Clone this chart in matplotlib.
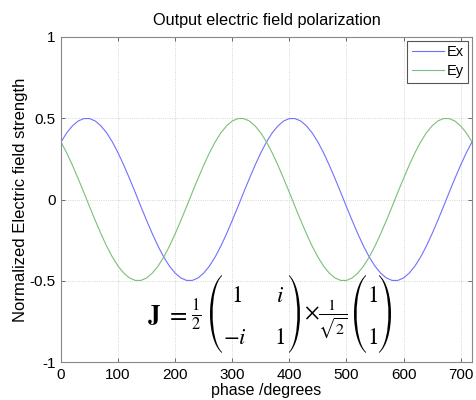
import matplotlib
matplotlib.use("Agg")
import matplotlib.pyplot as plt
from matplotlib.path import Path
from matplotlib.patches import PathPatch

phase = list(range(0, 721, 10))
ex = [0.354, 0.410, 0.453, 0.483, 0.498, 0.498, 0.483, 0.453, 0.410, 0.354,
      0.287, 0.211, 0.129, 0.044, -0.044, -0.129, -0.211, -0.287, -0.354, -0.410,
      -0.453, -0.483, -0.498, -0.498, -0.483, -0.453, -0.410, -0.354, -0.287, -0.211,
      -0.129, -0.044, 0.044, 0.129, 0.211, 0.287,
      0.354, 0.410, 0.453, 0.483, 0.498, 0.498, 0.483, 0.453, 0.410, 0.354,
      0.287, 0.211, 0.129, 0.044, -0.044, -0.129, -0.211, -0.287, -0.354, -0.410,
      -0.453, -0.483, -0.498, -0.498, -0.483, -0.453, -0.410, -0.354, -0.287, -0.211,
      -0.129, -0.044, 0.044, 0.129, 0.211, 0.287, 0.354]
ey = [0.354, 0.287, 0.211, 0.129, 0.044, -0.044, -0.129, -0.211, -0.287, -0.354,
      -0.410, -0.453, -0.483, -0.498, -0.498, -0.483, -0.453, -0.410, -0.354, -0.287,
      -0.211, -0.129, -0.044, 0.044, 0.129, 0.211, 0.287, 0.354, 0.410, 0.453,
      0.483, 0.498, 0.498, 0.483, 0.453, 0.410,
      0.354, 0.287, 0.211, 0.129, 0.044, -0.044, -0.129, -0.211, -0.287, -0.354,
      -0.410, -0.453, -0.483, -0.498, -0.498, -0.483, -0.453, -0.410, -0.354, -0.287,
      -0.211, -0.129, -0.044, 0.044, 0.129, 0.211, 0.287, 0.354, 0.410, 0.453,
      0.483, 0.498, 0.498, 0.483, 0.453, 0.410, 0.354]
series_labels = ["Ex", "Ey"]
xticks = [0, 100, 200, 300, 400, 500, 600, 700]
yticks = [-1, -0.5, 0, 0.5, 1]
ytick_labels = ["-1", "-0.5", "0", "0.5", "1"]

# Jones matrix entries shown in the annotation
matrix_entries = [["1", "i"], ["-i", "1"]]
vector_entries = ["1", "1"]

plt.rcParams['font.family'] = ['Liberation Sans', 'DejaVu Sans']
plt.rcParams['mathtext.fontset'] = 'stix'

W, H = 477, 400
fig = plt.figure(figsize=(W / 100, H / 100), dpi=100)
ax = fig.add_axes([61 / W, 1 - 362 / H, (472 - 61) / W, (362 - 37) / H])

ax.plot(phase, ex, color='#7070ff', lw=0.8, label=series_labels[0])
ax.plot(phase, ey, color='#78c078', lw=0.8, label=series_labels[1])

ax.set_xlim(0, 720)
ax.set_ylim(-1, 1)
ax.set_xticks(xticks)
ax.set_yticks(yticks)
ax.set_yticklabels(ytick_labels)
ax.tick_params(direction='in', top=True, right=True, length=3, width=0.6,
               color='#555555', labelsize=11, pad=4)
for s in ax.spines.values():
    s.set_color('#888888')
    s.set_linewidth(0.8)
ax.grid(True, linestyle=':', color='#c8c8c8', linewidth=0.6)

ax.set_title("Output electric field polarization", fontsize=11.7, pad=9)
ax.set_xlabel("phase /degrees", fontsize=11.5, labelpad=1)
ax.set_ylabel("Normalized Electric field strength", fontsize=12, labelpad=1)

leg = ax.legend(loc='upper right', fontsize=10.5, fancybox=False, framealpha=1,
                edgecolor='#555555', handlelength=2.2, borderaxespad=0.25,
                labelspacing=0.35, handletextpad=0.2, borderpad=0.3)
leg.get_frame().set_linewidth(0.8)


def px(x, y):
    return (x / W, 1 - y / H)


def paren(x_tip, x_out, yt, yb, thick=2.6, k=0.16):
    s = 1 if x_out > x_tip else -1
    h = yb - yt
    xo = (4 * x_out - x_tip) / 3
    xi = (4 * (x_out - s * thick) - x_tip) / 3
    verts = [px(x_tip, yt), px(xo, yt + k * h), px(xo, yb - k * h), px(x_tip, yb),
             px(x_tip, yb - 1.0), px(xi, yb - k * h), px(xi, yt + k * h),
             px(x_tip, yt + 1.0), px(x_tip, yt)]
    codes = [Path.MOVETO, Path.CURVE4, Path.CURVE4, Path.CURVE4,
             Path.LINETO, Path.CURVE4, Path.CURVE4, Path.CURVE4, Path.CLOSEPOLY]
    fig.add_artist(PathPatch(Path(verts, codes), transform=fig.transFigure,
                             fc='black', ec='none', lw=0))


FS = 16.5
fig.text(*px(147, 322), r'$\mathbf{J}$', fontsize=FS + 1.5, ha='left', va='baseline')
fig.text(*px(166, 321), r'$=$', fontsize=FS + 1.5, ha='left', va='baseline')
fig.text(*px(191, 321), r'$\frac{1}{2}$', fontsize=FS + 0.5, ha='left', va='baseline')
paren(222, 210, 275, 353)
paren(289, 300, 275, 353)
col_x = [237, 280]
row_y = [302, 344]
for r in range(2):
    for c in range(2):
        txt = matrix_entries[r][c]
        fig.text(*px(col_x[c] if txt != '-i' else 235, row_y[r]), '$' + txt + '$',
                 fontsize=FS, ha='center', va='baseline')
fig.text(*px(304, 320), r'$\times\frac{1}{\sqrt{2}}$', fontsize=FS, ha='left', va='baseline')
paren(366, 354, 275, 353)
paren(379, 391, 275, 353)
for r in range(2):
    fig.text(*px(373, row_y[r]), '$' + vector_entries[r] + '$', fontsize=FS,
             ha='center', va='baseline')

fig.savefig("out.png", dpi=100)
